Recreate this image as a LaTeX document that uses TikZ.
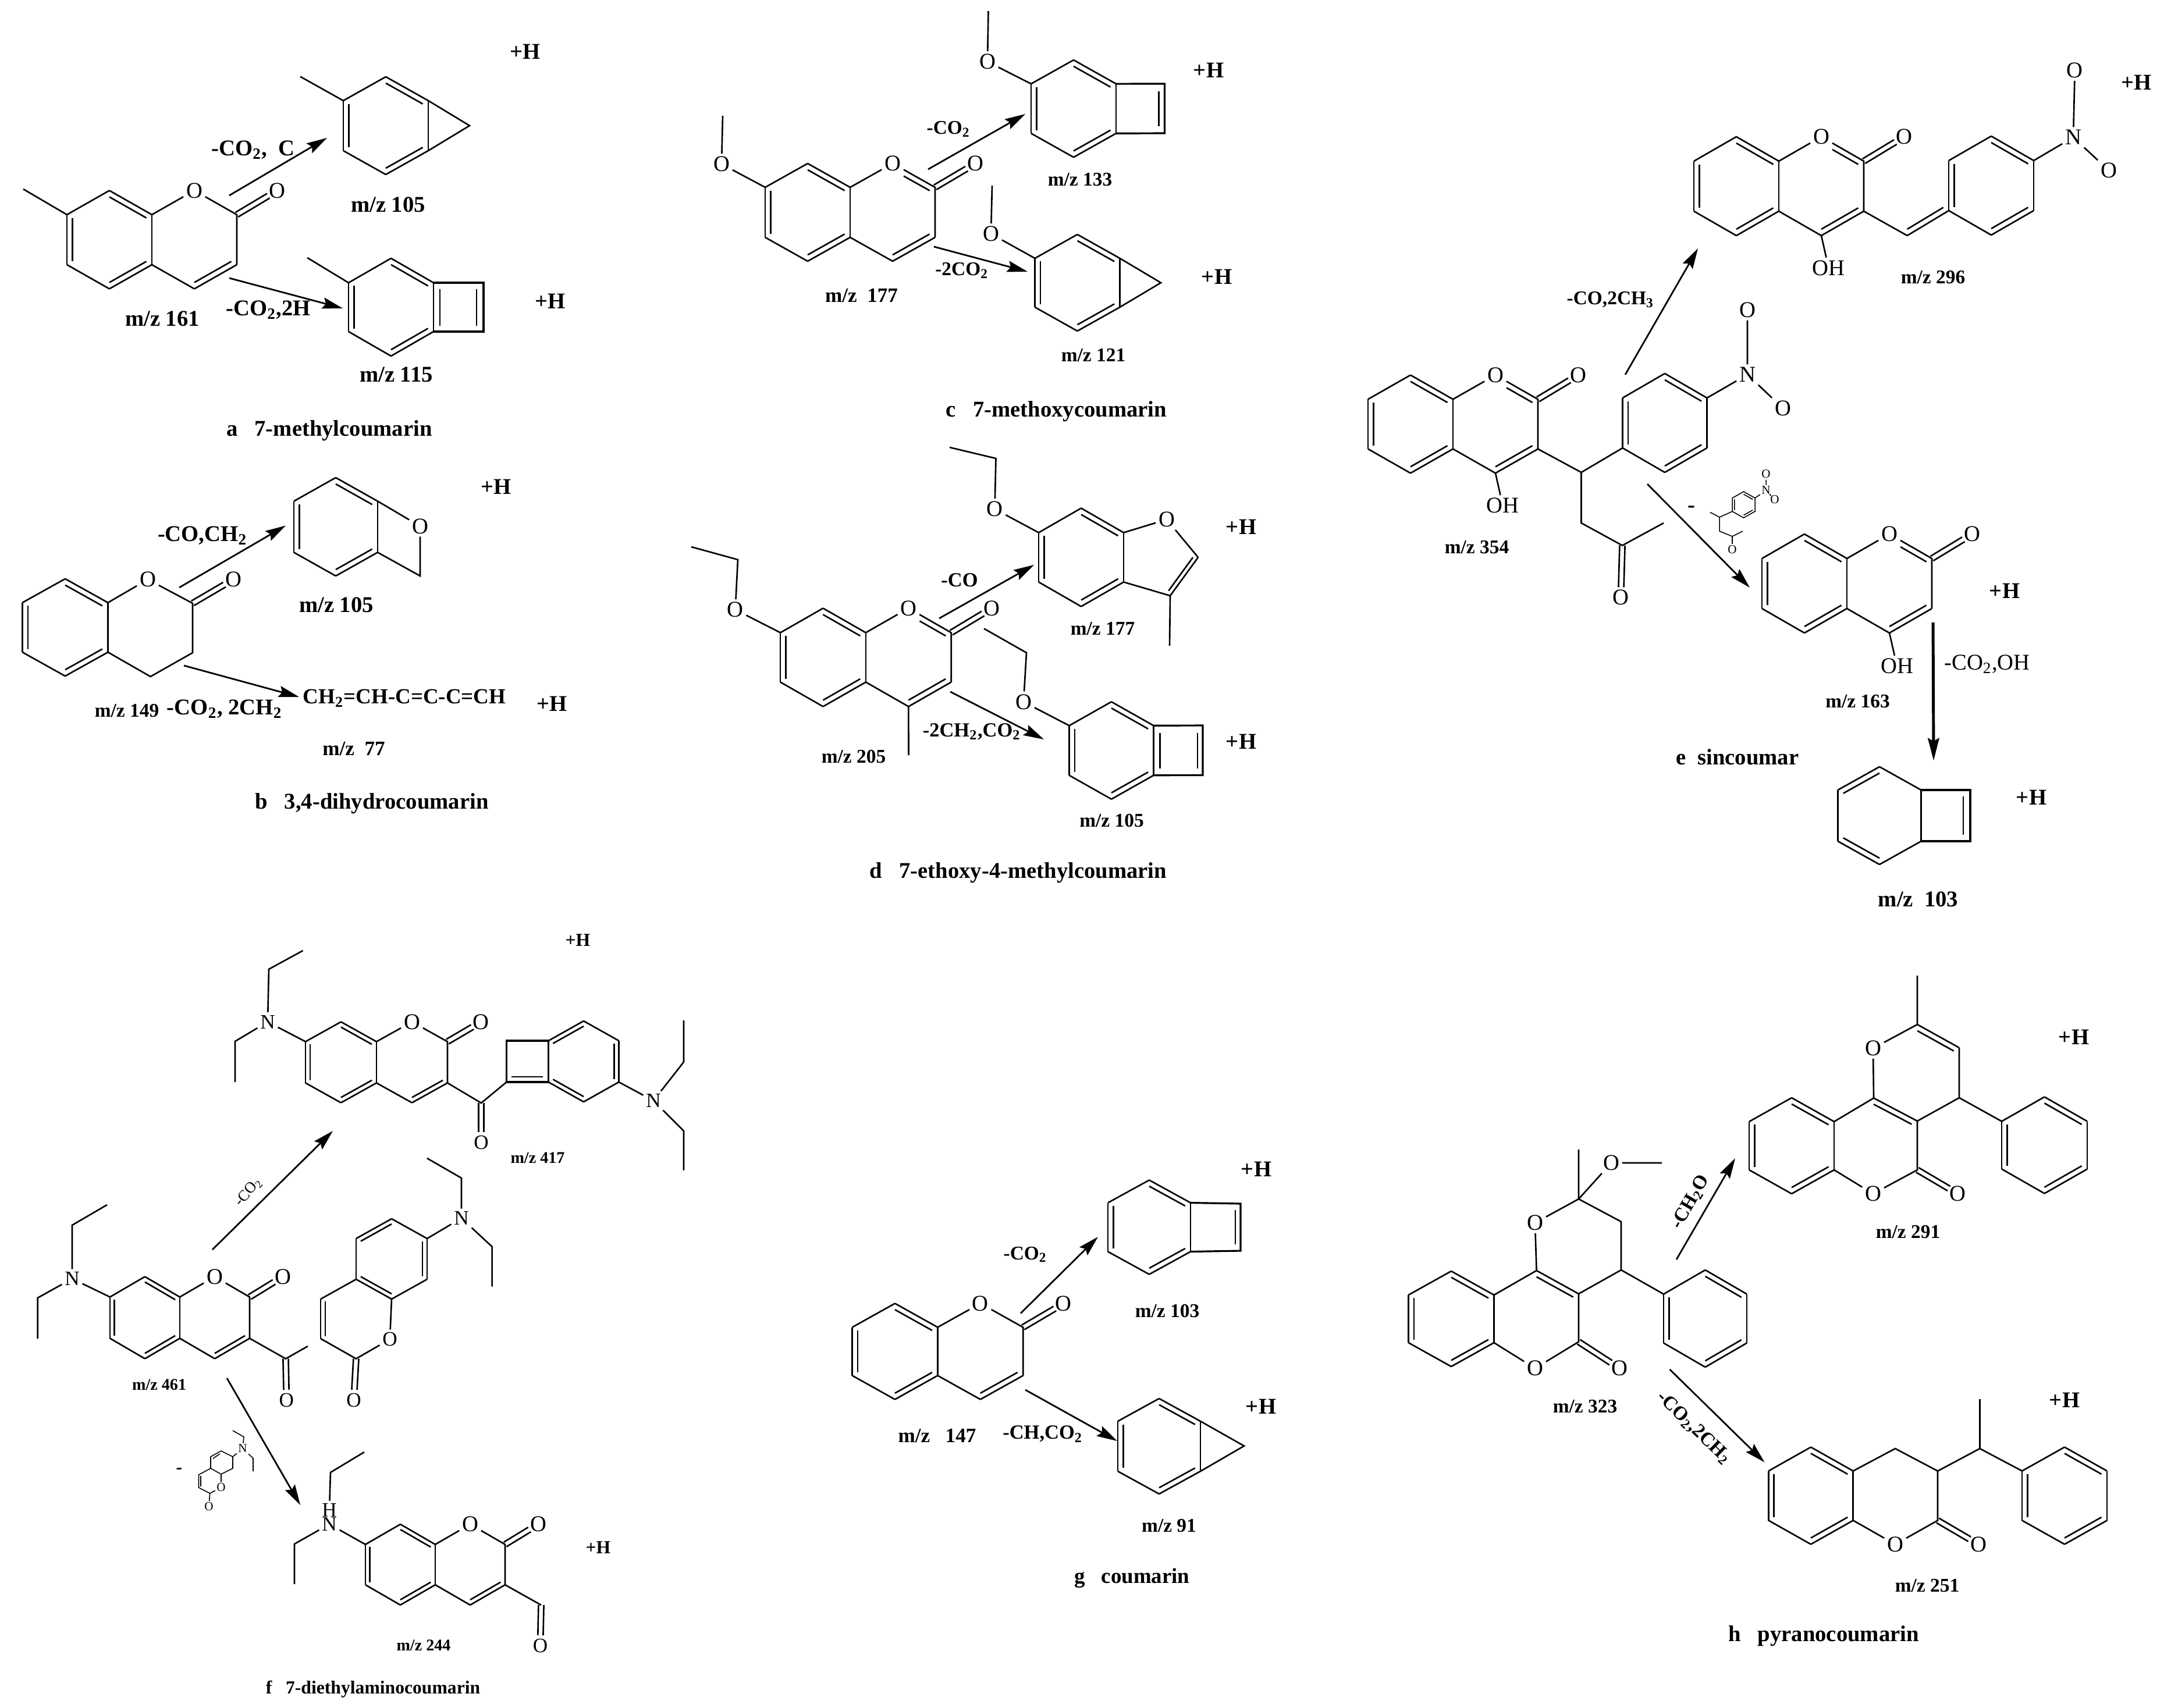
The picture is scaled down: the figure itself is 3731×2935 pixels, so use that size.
\documentclass[tikz,border=0pt]{standalone}
\usepackage{fontspec}
\setmainfont{Liberation Serif}
\usetikzlibrary{calc,arrows.meta}
\tikzset{
  bond/.style={line width=0.75pt,line join=miter},
  fine/.style={line width=0.45pt},
  heavy/.style={line width=0.9pt},
  rxn/.style={line width=0.8pt,-{Stealth[length=10pt,width=5.5pt,inset=1.5pt]}},
  rxnthick/.style={line width=1.4pt,-{Stealth[length=11pt,width=5.5pt,inset=1.5pt]}},
  atom/.style={font=\fontsize{11}{13}\selectfont,inner sep=1.2pt},
  atomsm/.style={font=\fontsize{10}{12}\selectfont,inner sep=1.2pt},
  atommini/.style={font=\fontsize{6}{7}\selectfont,inner sep=0.5pt},
}
\newcommand\lbl[5][11]{\node[inner sep=0pt,font=\fontsize{#1}{#1}\selectfont\bfseries] (#2) at (#3,#4) {#5};}
\newcommand\hexc[6]{%
  \coordinate (#1) at (#2,#3);
  \coordinate (#1-1) at (#2,#3-#5-#6);
  \coordinate (#1-2) at (#2+#4,#3-#5);
  \coordinate (#1-3) at (#2+#4,#3+#5);
  \coordinate (#1-4) at (#2,#3+#5+#6);
  \coordinate (#1-5) at (#2-#4,#3+#5);
  \coordinate (#1-6) at (#2-#4,#3-#5);}
\newcommand\dbl[3]{\draw[bond] (#1)--(#2); \draw[bond] ($(#1)!.13!(#3)$)--($(#2)!.13!(#3)$);}
\newcommand\benz[6]{\hexc{#1}{#2}{#3}{#4}{#5}{#6}
  \dbl{#1-1}{#1-2}{#1}\draw[bond] (#1-2)--(#1-3);
  \dbl{#1-3}{#1-4}{#1}\draw[bond] (#1-4)--(#1-5);
  \dbl{#1-5}{#1-6}{#1}\draw[bond] (#1-6)--(#1-1);}
\newcommand\benzB[6]{\hexc{#1}{#2}{#3}{#4}{#5}{#6}
  \draw[bond] (#1-1)--(#1-2);\dbl{#1-2}{#1-3}{#1}
  \draw[bond] (#1-3)--(#1-4);\dbl{#1-4}{#1-5}{#1}
  \draw[bond] (#1-5)--(#1-6);\dbl{#1-6}{#1-1}{#1}}
\newcommand\cdb[2]{%
  \draw[bond,shorten >=5pt] ($(#1)!1.3pt!90:(#2)$)--($(#2)!1.3pt!-90:(#1)$);
  \draw[bond,shorten >=5pt] ($(#1)!1.3pt!-90:(#2)$)--($(#2)!1.3pt!90:(#1)$);}
\newcommand\coumarin[6]{\benz{#1}{#2}{#3}{#4}{#5}{#6}
  \hexc{#1R}{#2+2*#4}{#3}{#4}{#5}{#6}
  \node[atom] (#1O) at (#1R-1) {O};
  \node[atom] (#1CO) at (#2+3*#4+.95*#4,#3-#5-#6) {O};
  \draw[bond] (#1-2)--(#1O)--(#1R-2)--(#1R-3);
  \draw[bond] (#1R-4)--(#1-3);
  \cdb{#1R-2}{#1CO}}
\newcommand\lacdb[1]{\draw[bond] ($($(#1R-1)!.13!(#1R)$)!.3!($(#1R-2)!.13!(#1R)$)$)--($(#1R-2)!.13!(#1R)$);}
\newcommand\sq[1]{\textsubscript{#1}}
\begin{document}
\begin{tikzpicture}[x=0.01cm,y=-0.01cm]
\useasboundingbox (0,0) rectangle (3731,2935);
\fill[white] (0,0) rectangle (3731,2935);

% ---------- a
\coumarin{a}{188}{412}{73}{43}{41.5}
\dbl{aR-3}{aR-4}{aR}
\coordinate (aMe) at (40,325); \draw[bond] (aMe)--(a-6);
\benz{aA}{663}{216}{73}{43}{41}
\coordinate (aAx) at (807,216); \draw[bond] (aA-2)--(aAx)--(aA-3);
\coordinate (aAm) at (516,131.6); \draw[bond] (aAm)--(aA-6);
\benz{aB}{672}{528}{73}{42}{42}
\coordinate (aBa) at (831,486); \coordinate (aBb) at (831,570);
\draw[heavy] (aB-2)--(aBa)--(aBb)--(aB-3);
\draw[bond] (756,497)--(756,560) (819,497)--(819,560);
\coordinate (aBm) at (528,443); \draw[bond] (aBm)--(aB-6);
\coordinate (ar1s) at (394,336); \coordinate (ar1e) at (562,237); \draw[rxn] (ar1s)--(ar1e);
\coordinate (ar2s) at (394,478); \coordinate (ar2e) at (589,530); \draw[rxn] (ar2s)--(ar2e);
\lbl{aL1}{435}{258}{-CO\sq{2},\ \ C}
\lbl{aL2}{461}{533}{-CO\sq{2},2H}
\lbl{aL3}{667}{352}{m/z 105}
\lbl{aL4}{903}{89}{+H}
\lbl{aL5}{681}{644}{m/z 115}
\lbl{aL6}{946}{518}{+H}
\lbl{aL7}{279}{548}{m/z 161}
\lbl{aL8}{566}{740}{a\ \ \ 7-methylcoumarin}

% ---------- b
\benz{b}{112}{1078.5}{73.5}{42.6}{41}
\node[atom] (bO) at (254,996) {O};
\node[atom] (bCO) at (401,996) {O};
\coordinate (bC2) at (331,1037); \coordinate (bC3) at (331,1122); \coordinate (bC4) at (258.6,1163);
\draw[bond] (b-2)--(bO)--(bC2)--(bC3)--(bC4)--(b-3);
\cdb{bC2}{bCO}
\benz{bA}{577}{905.5}{72}{44}{40.5}
\node[atom] (bAO) at (722,904.5) {O};
\coordinate (bAe) at (722,990);
\draw[bond] (bA-2)--(bAO)--(bAe)--(bA-3);
\coordinate (br1s) at (308,1010); \coordinate (br1e) at (491,903.5); \draw[rxn] (br1s)--(br1e);
\coordinate (br2s) at (316,1144); \coordinate (br2e) at (514,1198); \draw[rxn] (br2s)--(br2e);
\lbl{bL1}{348}{921}{-CO,CH\sq{2}}
\lbl{bL2}{853}{837}{+H}
\lbl{bL3}{578}{1040}{m/z 105}
\lbl[10.5]{bL4}{695}{1200}{CH\sq{2}=CH-C=C-C=CH}
\lbl{bL5}{949}{1210}{+H}
\lbl[9.5]{bL6}{218}{1222}{m/z 149}
\lbl{bL7}{386}{1219}{-CO\sq{2}, 2CH\sq{2}}
\lbl[10]{bL8}{608}{1287}{m/z\ \ 77}
\lbl{bL9}{639}{1381}{b\ \ \ 3,4-dihydrocoumarin}

% ---------- c
\coumarin{c}{1388}{365}{73}{43}{41}
\lacdb{c}
\dbl{cR-3}{cR-4}{cR}
\node[atom] (cMO) at (1240,282) {O};
\coordinate (cMe) at (1242,199); \draw[bond] (cMe)--(cMO)--(c-6);
\benz{cA}{1845}{186.7}{73}{42.6}{41}
\coordinate (cAa) at (2001.5,144); \coordinate (cAb) at (2001.5,229);
\draw[heavy] (cA-2)--(cAa)--(cAb)--(cA-3);
\draw[bond] (1991.5,157)--(1991.5,217);
\node[atom] (cAO) at (1697,106) {O};
\coordinate (cAm) at (1698.5,19); \draw[bond] (cAm)--(cAO)--(cA-6);
\benz{cB}{1851.5}{486}{73}{42}{41}
\coordinate (cBx) at (1995,486); \draw[bond] (cB-2)--(cBx)--(cB-3);
\node[atom] (cBO) at (1703,402) {O};
\coordinate (cBm) at (1705,319); \draw[bond] (cBm)--(cBO)--(cB-6);
\coordinate (cr1s) at (1595,291); \coordinate (cr1e) at (1762,196); \draw[rxn] (cr1s)--(cr1e);
\coordinate (cr2s) at (1605,424); \coordinate (cr2e) at (1766,467); \draw[rxn] (cr2s)--(cr2e);
\lbl[9.5]{cL1}{1630}{222}{-CO\sq{2}}
\lbl[9.5]{cL2}{1653}{465}{-2CO\sq{2}}
\lbl{cL3}{2077}{121}{+H}
\lbl[9.5]{cL4}{1856}{309}{m/z 133}
\lbl{cL5}{2091}{476}{+H}
\lbl[9.5]{cL6}{1879}{611}{m/z 121}
\lbl[10]{cL7}{1480.5}{508}{m/z\ \ 177}
\lbl{cL8}{1815.5}{707}{c\ \ \ 7-methoxycoumarin}

% ---------- d
\coumarin{d}{1414.5}{1130}{73.4}{42.5}{42}
\lacdb{d}
\dbl{dR-3}{dR-4}{dR}
\coordinate (dMe) at (1561.5,1298); \draw[bond] (dR-4)--(dMe);
\node[atom] (dMO) at (1263.6,1048) {O};
\coordinate (dE1) at (1268,962); \coordinate (dE2) at (1188,940);
\draw[bond] (dE2)--(dE1)--(dMO)--(d-6);
\benz{dA}{1858}{958}{73}{42.5}{42}
\node[atom] (dAO) at (2005,893) {O};
\coordinate (dAc) at (2059,958); \coordinate (dAd) at (2011,1024); \coordinate (dAm) at (2010,1110);
\coordinate (dAg) at (1990,958);
\draw[bond] (dA-2)--(dAO)--(dAc);
\dbl{dAc}{dAd}{dAg}
\draw[bond] (dAd)--(dA-3) (dAd)--(dAm);
\node[atom] (dAE) at (1709.5,875) {O};
\coordinate (dAe1) at (1711.5,788); \coordinate (dAe2) at (1632,769);
\draw[bond] (dAe2)--(dAe1)--(dAE)--(dA-6);
\benz{dB}{1910}{1290}{72.5}{42.7}{41}
\coordinate (dBa) at (2067,1247); \coordinate (dBb) at (2067,1332.5);
\draw[heavy] (dB-2)--(dBa)--(dBb)--(dB-3);
\draw[bond] (1993.4,1260)--(1993.4,1321) (2058,1260)--(2058,1321);
\node[atom] (dBO) at (1759,1206.5) {O};
\coordinate (dBe1) at (1691,1080.5); \coordinate (dBe2) at (1764,1122);
\draw[bond] (dBe1)--(dBe2)--(dBO)--(dB-6);
\coordinate (dr1s) at (1614,1063); \coordinate (dr1e) at (1777,971); \draw[rxn] (dr1s)--(dr1e);
\coordinate (dr2s) at (1633,1189); \coordinate (dr2e) at (1794,1271); \draw[rxn] (dr2s)--(dr2e);
\lbl[9.8]{dL1}{1649}{997}{-CO}
\lbl[9.8]{dL2}{1670}{1257.6}{-2CH\sq{2},CO\sq{2}}
\lbl{dL3}{2133}{906}{+H}
\lbl{dL4}{2133}{1275}{+H}
\lbl[9.5]{dL5}{1895}{1080.5}{m/z 177}
\lbl[9.5]{dL6}{1910.5}{1410.5}{m/z 105}
\lbl[9.5]{dL7}{1467}{1301}{m/z 205}
\lbl[11]{dL8}{1750}{1500}{d\ \ \ 7-ethoxy-4-methylcoumarin}

% ---------- e
\coumarin{e}{2424}{729}{73}{42.7}{41.6}
\lacdb{e}
\dbl{eR-3}{eR-4}{eR}
\node[atom] (eOH) at (2582.5,869) {OH};
\draw[bond] (eR-4)--(eOH);
\coordinate (eCH) at (2717.5,812); \coordinate (eC5) at (2717.5,899);
\coordinate (eC6) at (2788,937.6); \coordinate (eC7) at (2859,899);
\node[atom] (eCO2) at (2785.5,1027) {O};
\benz{eP}{2861}{727}{72.5}{43}{42}
\draw[bond] (eR-3)--(eCH)--(eP-5) (eCH)--(eC5)--(eC6)--(eC7);
\cdb{eC6}{eCO2}
\node[atom] (eN) at (3003,644) {N};
\node[atom] (eNa) at (3003,532.6) {O};
\node[atom] (eNb) at (3064,701.6) {O};
\draw[bond] (eP-2)--(eN)--(eNa) (eN)--(eNb);
% m/z 296
\coumarin{f}{2984}{320}{73}{43}{42}
\lacdb{f}
\dbl{fR-3}{fR-4}{fR}
\node[atom] (fOH) at (3142.5,460.5) {OH};
\draw[bond] (fR-4)--(fOH);
\benz{fP}{3422}{319}{73}{43}{42}
\coordinate (fCH) at (3277.6,405);
\coordinate (fCg) at (3277.6,320);
\draw[bond] (fR-3)--(fCH);
\dbl{fCH}{fP-5}{fCg}
\node[atom] (fN) at (3563,236) {N};
\node[atom] (fNa) at (3565.7,121) {O};
\node[atom] (fNb) at (3624,293) {O};
\draw[bond] (fP-2)--(fN)--(fNa) (fN)--(fNb);
\coordinate (er1s) at (2793,644); \coordinate (er1e) at (2918,427); \draw[rxn] (er1s)--(er1e);
\coordinate (er2s) at (2831,832); \coordinate (er2e) at (3007,1010); \draw[rxn] (er2s)--(er2e);
% mini fragment
\hexc{m}{2996.5}{867.6}{19.5}{11.5}{11}
\draw[fine] (m-1)--(m-2)--(m-3)--(m-4)--(m-5)--(m-6)--cycle;
\draw[fine] ($(m-1)!.2!(m)$)--($(m-2)!.2!(m)$) ($(m-3)!.2!(m)$)--($(m-4)!.2!(m)$) ($(m-5)!.2!(m)$)--($(m-6)!.2!(m)$);
\node[atommini] (mN) at (3035,843) {N};
\node[atommini] (mNa) at (3035,815) {O};
\node[atommini] (mNb) at (3050,859) {O};
\draw[fine] (m-2)--(mN)--(mNa) (mN)--(mNb);
\coordinate (mC1) at (2955,889); \coordinate (mC2) at (2939,880.6); \coordinate (mC3) at (2955,913);
\coordinate (mC4) at (2977,922); \coordinate (mC5) at (2995,913);
\node[atommini] (mO) at (2977,945) {O};
\draw[fine] (m-5)--(mC1)--(mC2) (mC1)--(mC3)--(mC4)--(mC5);
\draw[fine] (mC4)--(mO);
\lbl[11]{eD}{2907}{875.5}{-}
% m/z 163
\coumarin{g}{3101}{1003}{73}{43}{42}
\lacdb{g}
\dbl{gR-3}{gR-4}{gR}
\node[atom] (gOH) at (3260,1145) {OH};
\draw[bond] (gR-4)--(gOH);
\coordinate (er3s) at (3322,1070); \coordinate (er3e) at (3323,1307.5); \draw[rxnthick] (er3s)--(er3e);
% m/z 103
\hexc{gA}{3230}{1402}{71.6}{44}{40}
\dbl{gA-6}{gA-1}{gA}
\dbl{gA-5}{gA-4}{gA}
\draw[bond] (gA-1)--(gA-2) (gA-3)--(gA-4) (gA-5)--(gA-6);
\coordinate (gAa) at (3386,1358); \coordinate (gAb) at (3386,1446);
\draw[heavy] (gA-2)--(gAa)--(gAb)--(gA-3)--cycle;
\draw[bond] (3374,1369)--(3374,1435);
\lbl[9.5]{eL1}{2767.6}{515}{-CO,2CH\sq{3}}
\lbl[9.5]{eL2}{2538}{941}{m/z 354}
\lbl[9.5]{eL3}{3322}{477}{m/z 296}
\lbl{eL4}{3671.5}{141.6}{+H}
\lbl{eL5}{3445}{1016}{+H}
\lbl[9.5]{eL6}{3192.5}{1205.5}{m/z 163}
\node[inner sep=0pt,font=\fontsize{11}{11}\selectfont] (eL7) at (3415,1142) {-CO\sq{2},OH};
\lbl{eL8}{2986}{1301}{e\ \ sincoumar}
\lbl{eL9}{3491}{1371}{+H}
\lbl{eL10}{3296.5}{1546}{m/z\ \ 103}

% ---------- f parent m/z 461
\coumarin{h}{249}{2265}{60}{35.5}{35}
\dbl{hR-3}{hR-4}{hR}
\node[atomsm] (hN) at (124,2198) {N};
\coordinate (hU1) at (124,2106); \coordinate (hU2) at (184,2071);
\coordinate (hD1) at (64.7,2231); \coordinate (hD2) at (64.7,2301);
\draw[bond] (h-6)--(hN)--(hU1)--(hU2) (hN)--(hD1)--(hD2);
\coordinate (hC) at (491,2335.6); \coordinate (hMe) at (529,2314);
\node[atomsm] (hCO2) at (492.4,2406.5) {O};
\draw[bond] (hR-3)--(hC)--(hMe);
\cdb{hC}{hCO2}
% second unit
\benzB{i}{673}{2164}{61}{35}{34}
\node[atomsm] (iN) at (793,2094) {N};
\coordinate (iU1) at (793,2025); \coordinate (iU2) at (734,1991);
\coordinate (iD1) at (845.6,2143); \coordinate (iD2) at (845.6,2211.5);
\draw[bond] (i-2)--(iN)--(iU1)--(iU2) (iN)--(iD1)--(iD2);
\coordinate (iB) at (551,2233); \coordinate (iCc) at (551,2301); \coordinate (iC) at (612,2335.6);
\coordinate (iG) at (612,2267);
\node[atomsm] (iO) at (670,2302) {O};
\node[atomsm] (iCO) at (608,2406.5) {O};
\draw[bond] (i-5)--(iB);
\dbl{iB}{iCc}{iG}
\draw[bond] (iCc)--(iC)--(iO)--(i-4);
\cdb{iC}{iCO}
% top product m/z 417
\coumarin{j}{586}{1826}{61}{35.5}{34}
\dbl{jR-3}{jR-4}{jR}
\node[atomsm] (jN) at (460,1756.6) {N};
\coordinate (jU1) at (462,1666); \coordinate (jU2) at (520.6,1634);
\coordinate (jD1) at (404,1790); \coordinate (jD2) at (404,1860);
\draw[bond] (j-6)--(jN)--(jU1)--(jU2) (jN)--(jD1)--(jD2);
\coordinate (jC) at (827,1896);
\node[atomsm] (jCO2) at (827,1964) {O};
\benzB{k}{1003}{1824.5}{60.5}{35.5}{34}
\coordinate (kA) at (870.5,1789); \coordinate (kB) at (870.5,1860);
\draw[bond] (jR-3)--(jC)--(kB);
\cdb{jC}{jCO2}
\draw[heavy] (k-6)--(kA)--(kB)--(k-5);
\draw[bond] (879,1851)--(932.6,1851);
\node[atomsm] (kN) at (1123,1892) {N};
\coordinate (kU1) at (1175,1825.5); \coordinate (kU2) at (1175,1754);
\coordinate (kD1) at (1175,1944); \coordinate (kD2) at (1175,2011.6);
\draw[bond] (k-3)--(kN)--(kU1)--(kU2) (kN)--(kD1)--(kD2);
\coordinate (fr1s) at (365,2148); \coordinate (fr1e) at (572,1944); \draw[rxn] (fr1s)--(fr1e);
\coordinate (fr2s) at (390,2369); \coordinate (fr2e) at (516,2587); \draw[rxn] (fr2s)--(fr2e);
% mini fragment f
\coordinate (n1) at (380,2494); \coordinate (n2) at (400,2504); \coordinate (n3) at (400,2524);
\coordinate (n4) at (380,2534); \coordinate (n5) at (362,2524); \coordinate (n6) at (362,2504);
\coordinate (n7) at (341.5,2535); \coordinate (n8) at (341.5,2557); \coordinate (n9) at (360.6,2567);
\node[atommini] (nO) at (380,2557) {O};
\node[atommini] (nCO) at (359,2590) {O};
\node[atommini] (nN) at (417,2490) {N};
\coordinate (nU1) at (419,2470); \coordinate (nU2) at (400,2459);
\coordinate (nD1) at (435,2506.6); \coordinate (nD2) at (435,2529);
\draw[fine] (n1)--(n2)--(n3)--(n4)--(n5)--(n6)--cycle;
\draw[fine] (n5)--(n7)--(n8)--(n9)--(nO)--(n4);
\draw[fine] (n9)--(nCO) (n2)--(nN)--(nU1)--(nU2) (nN)--(nD1)--(nD2);
\draw[fine] (366,2507)--(378,2499) (345,2537)--(345,2555);
\lbl[9]{fD}{308}{2528}{-}
% bottom product m/z 244
\coumarin{l}{688}{2689.5}{60}{34.7}{34.7}
\dbl{lR-3}{lR-4}{lR}
\node[atomsm] (lN) at (566,2620) {N};
\node[atomsm] (lH) at (566,2596) {H};
\coordinate (lU1) at (568,2531); \coordinate (lU2) at (626,2496);
\coordinate (lD1) at (506,2654); \coordinate (lD2) at (506,2723);
\draw[bond] (l-6)--(lN) (lH)--(lU1)--(lU2) (lN)--(lD1)--(lD2);
\coordinate (lC) at (930,2759);
\node[atomsm] (lCO2) at (928.5,2828.5) {O};
\draw[bond] (lR-3)--(lC);
\cdb{lC}{lCO2}
\lbl[9]{fL1}{993}{1616}{+H}
\lbl[8]{fL2}{924}{1990}{m/z 417}
\lbl[8]{fL3}{273.6}{2380}{m/z 461}
\node[inner sep=0pt,font=\fontsize{7.5}{8}\selectfont,rotate=48] (fL4) at (427,2049) {-CO\sq{2}};
\lbl[9]{fL5}{1028}{2660.5}{+H}
\lbl[8]{fL6}{728}{2828}{m/z 244}
\lbl[9]{fL7}{641}{2903.5}{f\ \ \ 7-diethylaminocoumarin}

% ---------- g
\coumarin{o}{1538}{2323}{73.4}{41.5}{41}
\dbl{oR-3}{oR-4}{oR}
\benz{oA}{1975}{2109.5}{71}{42}{39}
\coordinate (oAa) at (2132,2069); \coordinate (oAb) at (2132,2150);
\draw[heavy] (oA-2)--(oAa)--(oAb)--(oA-3);
\draw[bond] (2123,2080)--(2123,2139);
\benz{oB}{1992}{2486}{71}{43}{39}
\coordinate (oBx) at (2138,2485.5); \draw[bond] (oB-2)--(oBx)--(oB-3);
\coordinate (gr1s) at (1754,2257.5); \coordinate (gr1e) at (1887,2126); \draw[rxn] (gr1s)--(gr1e);
\coordinate (gr2s) at (1762,2389); \coordinate (gr2e) at (1920,2477); \draw[rxn] (gr2s)--(gr2e);
\lbl[9.5]{gL1}{1762}{2156.6}{-CO\sq{2}}
\lbl[9.8]{gL2}{1792}{2465}{-CH,CO\sq{2}}
\lbl[9.5]{gL3}{2006}{2253.6}{m/z 103}
\lbl{gL4}{2159}{2010}{+H}
\lbl{gL5}{2167}{2418}{+H}
\lbl[9.5]{gL6}{2009}{2623}{m/z 91}
\lbl[10]{gL7}{1610.5}{2468}{m/z\ \ \ 147}
\lbl[10.5]{gL8}{1945.5}{2712.6}{g\ \ \ coumarin}

% ---------- h parent m/z 323
\benz{p}{2494}{2267}{73.5}{41}{41}
\coordinate (pa) at (2640.6,2184); \coordinate (pb) at (2713,2224); \coordinate (pc) at (2713,2306.5);
\coordinate (pG) at (2640.6,2267);
\node[atom] (pO) at (2638,2352) {O};
\node[atom] (pCO) at (2783,2352) {O};
\node[atom] (pU) at (2638,2102) {O};
\coordinate (pd) at (2713,2061); \coordinate (pe) at (2786,2100); \coordinate (pf) at (2786,2183);
\node[atom] (pM) at (2769,1999) {O};
\coordinate (pMe) at (2856,1999); \coordinate (pMt) at (2713,1976);
\draw[bond] (p-2)--(pa) (p-3)--(pO)--(pc)--(pb);
\dbl{pa}{pb}{pG}
\draw[bond] (pa)--(pU)--(pd)--(pe)--(pf)--(pb) (pd)--(pM)--(pMe) (pd)--(pMt);
\cdb{pc}{pCO}
\benz{pP}{2930.5}{2266.5}{71.5}{42}{41.5}
\draw[bond] (pf)--(pP-6);
% m/z 291
\benz{q}{3079}{1969.5}{73}{41.5}{41}
\coordinate (qa) at (3220,1887.5); \coordinate (qb) at (3295,1927); \coordinate (qc) at (3295,2011);
\coordinate (qG) at (3220,1969.5);
\node[atom] (qO) at (3219,2052) {O};
\node[atom] (qCO) at (3364.5,2052) {O};
\node[atom] (qU) at (3219,1802) {O};
\coordinate (qd) at (3295,1761); \coordinate (qe) at (3367,1801); \coordinate (qf) at (3367,1887);
\coordinate (qMt) at (3295,1677); \coordinate (qH) at (3295,1844);
\draw[bond] (q-2)--(qa) (q-3)--(qO)--(qc)--(qb);
\dbl{qa}{qb}{qG}
\draw[bond] (qa)--(qU)--(qd) (qe)--(qf)--(qb) (qd)--(qMt);
\dbl{qd}{qe}{qH}
\cdb{qc}{qCO}
\benz{qP}{3513.5}{1968.5}{73.5}{41}{42}
\draw[bond] (qf)--(qP-6);
% m/z 251
\benz{r}{3112}{2571}{72.7}{42.5}{41}
\coordinate (ra) at (3257,2490); \coordinate (rb) at (3330,2528.6); \coordinate (rc) at (3330,2613.6);
\node[atom] (rO) at (3257,2654.6) {O};
\node[atom] (rCO) at (3400,2654.6) {O};
\coordinate (rCH) at (3402.4,2490); \coordinate (rMe) at (3402.4,2405);
\draw[bond] (r-2)--(ra)--(rb)--(rc)--(rO)--(r-3);
\cdb{rc}{rCO}
\benz{rP}{3548}{2571}{73}{42.5}{41}
\draw[bond] (rb)--(rCH)--(rP-6) (rCH)--(rMe);
\coordinate (hr1s) at (2881,2165); \coordinate (hr1e) at (2982,1991); \draw[rxn] (hr1s)--(hr1e);
\coordinate (hr2s) at (2869.6,2354); \coordinate (hr2e) at (3032.5,2513.6); \draw[rxn] (hr2s)--(hr2e);
\node[inner sep=0pt,font=\fontsize{9.5}{10}\selectfont\bfseries,rotate=60] (hL1) at (2905,2066) {-CH\sq{2}O};
\node[inner sep=0pt,font=\fontsize{9.5}{10}\selectfont\bfseries,rotate=-44] (hL2) at (2911,2454.5) {-CO\sq{2},2CH\sq{2}};
\lbl{hL3}{3564}{1783}{+H}
\lbl{hL4}{3548}{2407}{+H}
\lbl[9.5]{hL5}{3279}{2117.4}{m/z 291}
\lbl[9.5]{hL6}{3312}{2725.5}{m/z 251}
\lbl[9.5]{hL7}{2724}{2418}{m/z 323}
\lbl{hL8}{3134}{2812}{h\ \ \ pyranocoumarin}
\end{tikzpicture}
\end{document}
